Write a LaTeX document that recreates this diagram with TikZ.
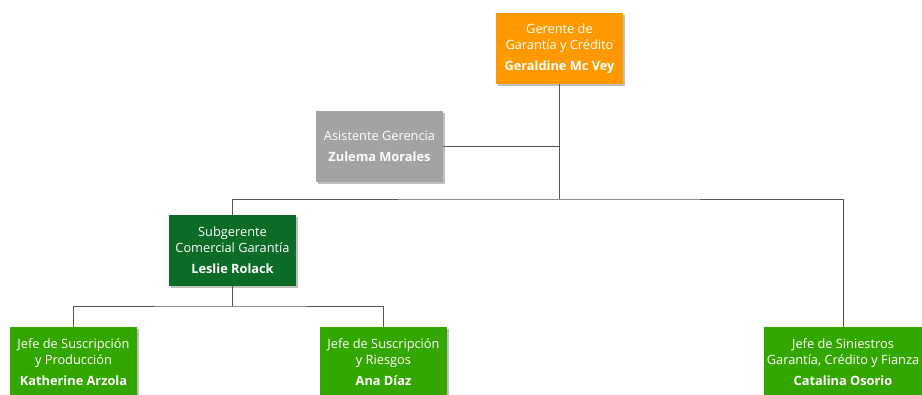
\documentclass[tikz,border=0pt]{standalone}
\usepackage{fontspec}
\setmainfont{Open Sans}
\usetikzlibrary{positioning,shadows}
\definecolor{gerenteorange}{HTML}{FF9900}
\definecolor{asistgray}{HTML}{A3A3A3}
\definecolor{subgreen}{HTML}{0B6B27}
\definecolor{jefegreen}{HTML}{33A602}
\definecolor{linkgray}{HTML}{555555}
\begin{document}
\begin{tikzpicture}[x=1pt,y=-1pt,box/.style={draw=none, text=white, align=center, inner sep=0pt, minimum width=127pt, minimum height=71pt, font=\fontsize{12.8}{16}\selectfont, drop shadow={shadow xshift=2pt, shadow yshift=-2pt, fill=black, opacity=0.25}},link/.style={draw=linkgray, line width=0.8pt}]
\useasboundingbox (0,0) rectangle (922,394);
\node[box, fill=gerenteorange] (gerente) at (559.5,48.5) {Gerente de\\Garantía y Crédito\\[5pt]\textbf{Geraldine Mc Vey}};
\node[box, fill=asistgray] (asistente) at (379.5,146.5) {Asistente Gerencia\\[5pt]\textbf{Zulema Morales}};
\node[box, fill=subgreen] (subgerente) at (232.5,250.5) {Subgerente\\Comercial Garantía\\[5pt]\textbf{Leslie Rolack}};
\node[box, fill=jefegreen] (katherine) at (73.5,362.5) {Jefe de Suscripción\\y Producción\\[5pt]\textbf{Katherine Arzola}};
\node[box, fill=jefegreen] (ana) at (383.5,362.5) {Jefe de Suscripción\\y Riesgos\\[5pt]\textbf{Ana Díaz}};
\node[box, fill=jefegreen, minimum width=158pt] (catalina) at (843,362.5) {Jefe de Siniestros\\Garantía, Crédito y Fianza\\[5pt]\textbf{Catalina Osorio}};
\coordinate (bus) at (559.5,199);
\coordinate (subbus) at (232.5,306);
\draw[link] (gerente.south) -- (bus);
\draw[link] (asistente.east) -- (asistente.east -| bus);
\draw[link] (subgerente.north) |- (bus) -| (catalina.north);
\draw[link] (subgerente.south) -- (subbus);
\draw[link] (katherine.north) |- (subbus) -| (ana.north);
\end{tikzpicture}
\end{document}
